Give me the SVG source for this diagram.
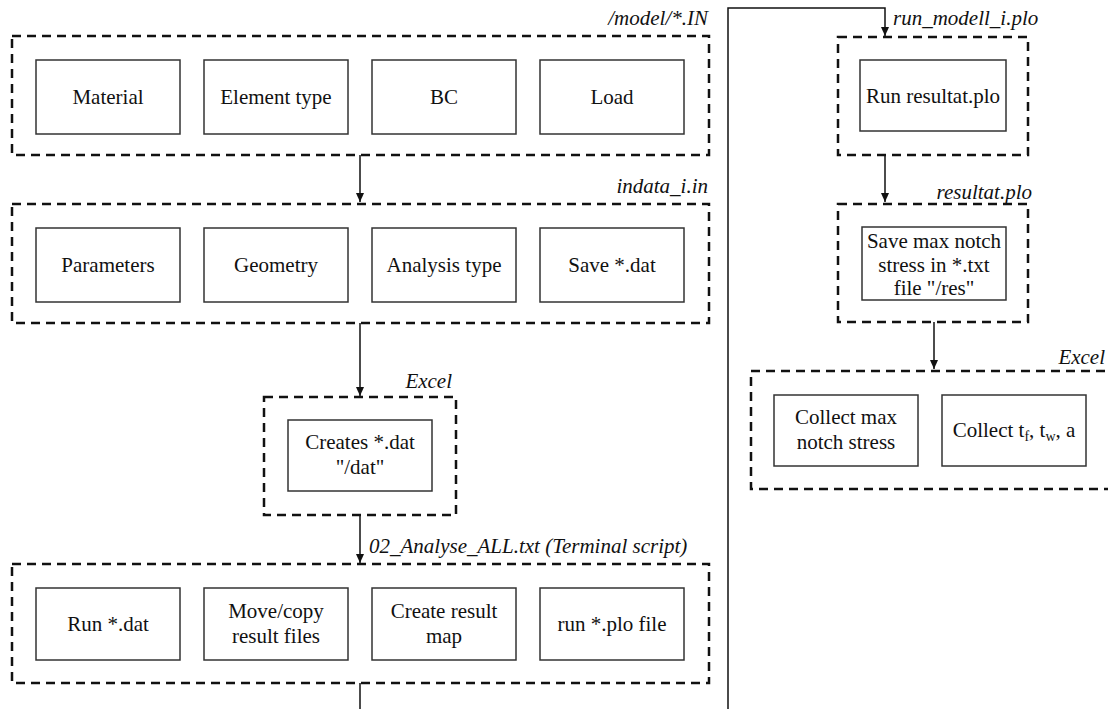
<svg xmlns="http://www.w3.org/2000/svg" width="1108" height="709" viewBox="0 0 1108 709">
<style>
.grp{fill:none;stroke:#111;stroke-width:2.5;stroke-dasharray:9,6}
.box{fill:#fff;stroke:#333;stroke-width:1.5}
.t{font-family:'Liberation Serif','Times New Roman','DejaVu Serif',serif;font-size:21px;fill:#111;text-anchor:middle}
.lab{font-family:'Liberation Serif','Times New Roman','DejaVu Serif',serif;font-size:21px;font-style:italic;fill:#111}
.ln{fill:none;stroke:#111;stroke-width:1.5}
</style>
<defs>
<marker id="ah" markerWidth="10" markerHeight="10" refX="9" refY="5" orient="auto" markerUnits="userSpaceOnUse">
<path d="M0,1 L9,5 L0,9 Z" fill="#111"/>
</marker>
</defs>
<rect width="1108" height="709" fill="#fff"/>

<g id="connectors">
<line class="ln" x1="360" y1="155" x2="360" y2="202" marker-end="url(#ah)"/>
<line class="ln" x1="360" y1="323" x2="360" y2="396" marker-end="url(#ah)"/>
<line class="ln" x1="360" y1="515" x2="360" y2="563" marker-end="url(#ah)"/>
<line class="ln" x1="360" y1="683" x2="360" y2="709"/>
<polyline class="ln" points="728,709 728,8 885,8 885,36" marker-end="url(#ah)"/>
<line class="ln" x1="885" y1="155" x2="885" y2="202" marker-end="url(#ah)"/>
<line class="ln" x1="934" y1="322" x2="934" y2="369" marker-end="url(#ah)"/>
</g>

<g id="group-model">
<rect class="grp" x="12" y="36" width="697" height="119"/>
<text class="lab" x="708" y="25" text-anchor="end">/model/*.IN</text>
</g>
<g id="n-material"><rect class="box" x="36" y="60" width="144" height="74"/><text class="t" x="108" y="104">Material</text></g>
<g id="n-element"><rect class="box" x="204" y="60" width="144" height="74"/><text class="t" x="276" y="104">Element type</text></g>
<g id="n-bc"><rect class="box" x="372" y="60" width="144" height="74"/><text class="t" x="444" y="104">BC</text></g>
<g id="n-load"><rect class="box" x="540" y="60" width="144" height="74"/><text class="t" x="612" y="104">Load</text></g>

<g id="group-indata">
<rect class="grp" x="12" y="204" width="697" height="119"/>
<text class="lab" x="708" y="193" text-anchor="end">indata_i.in</text>
</g>
<g id="n-parameters"><rect class="box" x="36" y="228" width="144" height="74"/><text class="t" x="108" y="272">Parameters</text></g>
<g id="n-geometry"><rect class="box" x="204" y="228" width="144" height="74"/><text class="t" x="276" y="272">Geometry</text></g>
<g id="n-analysis"><rect class="box" x="372" y="228" width="144" height="74"/><text class="t" x="444" y="272">Analysis type</text></g>
<g id="n-save"><rect class="box" x="540" y="228" width="144" height="74"/><text class="t" x="612" y="272">Save *.dat</text></g>

<g id="group-excel1">
<rect class="grp" x="264" y="397" width="192" height="118"/>
<text class="lab" x="452" y="388" text-anchor="end">Excel</text>
</g>
<g id="n-creates"><rect class="box" x="288" y="420" width="144" height="71"/><text class="t" x="360" y="449">Creates *.dat</text><text class="t" x="360" y="474">"/dat"</text></g>

<g id="group-analyse">
<rect class="grp" x="12" y="564" width="697" height="119"/>
<text class="lab" x="369" y="553">02_Analyse_ALL.txt (Terminal script)</text>
</g>
<g id="n-run"><rect class="box" x="36" y="588" width="144" height="72"/><text class="t" x="108" y="631">Run *.dat</text></g>
<g id="n-move"><rect class="box" x="204" y="588" width="144" height="72"/><text class="t" x="276" y="618">Move/copy</text><text class="t" x="276" y="643">result files</text></g>
<g id="n-create"><rect class="box" x="372" y="588" width="144" height="72"/><text class="t" x="444" y="618">Create result</text><text class="t" x="444" y="643">map</text></g>
<g id="n-runplo"><rect class="box" x="540" y="588" width="144" height="72"/><text class="t" x="612" y="631">run *.plo file</text></g>

<g id="group-runmodell">
<rect class="grp" x="838" y="37" width="190" height="118"/>
<text class="lab" x="893" y="25">run_modell_i.plo</text>
</g>
<g id="n-runresultat"><rect class="box" x="860" y="60" width="146" height="71"/><text class="t" x="933" y="103">Run resultat.plo</text></g>

<g id="group-resultat">
<rect class="grp" x="838" y="204" width="190" height="118"/>
<text class="lab" x="1032" y="199" text-anchor="end">resultat.plo</text>
</g>
<g id="n-savemax"><rect class="box" x="862" y="227" width="144" height="73"/><text class="t" x="934" y="248">Save max notch</text><text class="t" x="934" y="272">stress in *.txt</text><text class="t" x="934" y="295">file "/res"</text></g>

<g id="group-excel2">
<rect class="grp" x="751" y="371" width="362" height="118"/>
<text class="lab" x="1105" y="364" text-anchor="end">Excel</text>
</g>
<g id="n-collectmax"><rect class="box" x="774" y="395" width="144" height="71"/><text class="t" x="846" y="424">Collect max</text><text class="t" x="846" y="449">notch stress</text></g>
<g id="n-collectt"><rect class="box" x="942" y="395" width="144" height="71"/><text class="t" x="1014" y="437">Collect t<tspan font-size="14" dy="4">f</tspan><tspan dy="-4">, t</tspan><tspan font-size="14" dy="4">w</tspan><tspan dy="-4">, a</tspan></text></g>
</svg>
